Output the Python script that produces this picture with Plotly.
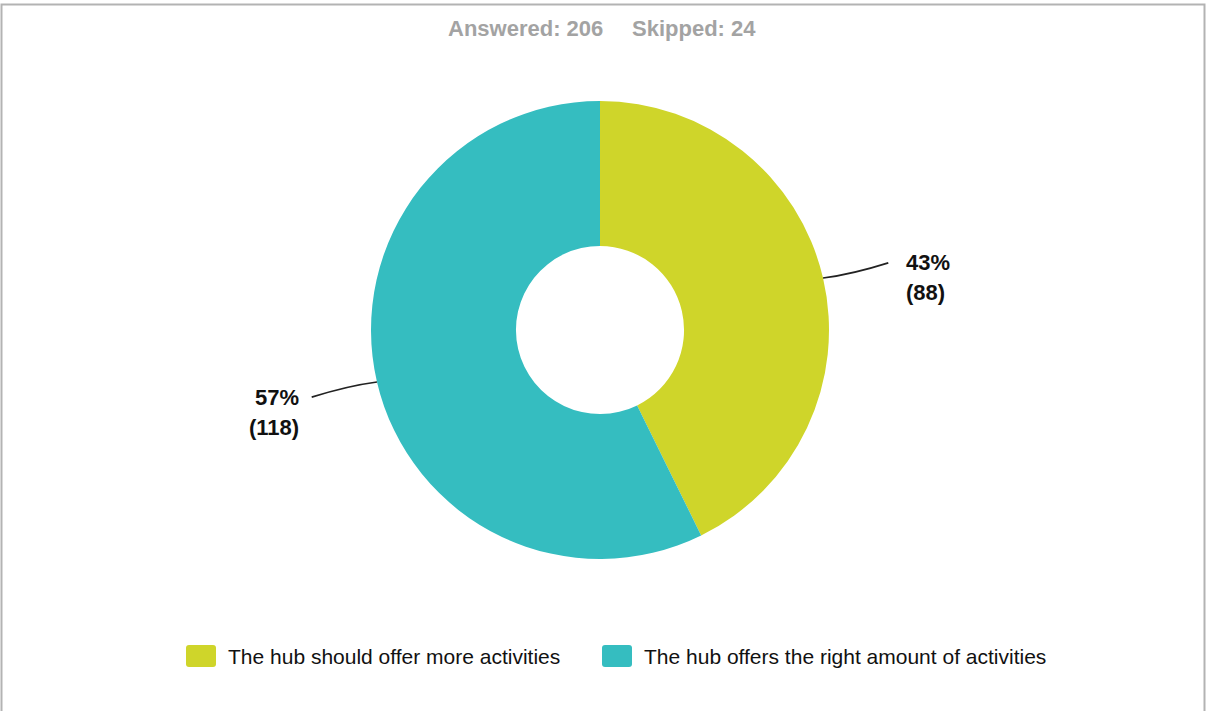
import math
import plotly.graph_objects as go

# Survey responses
categories = ["The hub should offer more activities",
              "The hub offers the right amount of activities"]
counts = [88, 118]
colors = ["#CFD52A", "#35BDC0"]
answered = 206
skipped = 24

W, H = 1206, 711
CX, CY, R = 600, 330, 229      # donut centre and outer radius in pixels
HOLE = 0.367
FONT = "Liberation Sans, Arial, sans-serif"


def px(x):
    return x / W


def py(y):
    return 1 - y / H


fig = go.Figure(go.Pie(
    labels=categories,
    values=counts,
    marker=dict(colors=colors, line=dict(width=0)),
    hole=HOLE,
    sort=False,
    direction="clockwise",
    rotation=0,
    textinfo="none",
    hoverinfo="label+value+percent",
    showlegend=False,
    domain=dict(x=[px(CX - R), px(CX + R)], y=[py(CY + R), py(CY - R)]),
))

shapes = []
annotations = []

# outer frame
shapes.append(dict(type="rect", xref="paper", yref="paper",
                   x0=px(1.5), x1=px(1204.5), y0=-0.02, y1=py(4.5),
                   line=dict(color="#b3b3b3", width=2), layer="below"))

# header
annotations.append(dict(text=f"<b>Answered: {answered}</b>", x=px(605), y=py(29),
                        xref="paper", yref="paper", xanchor="right", yanchor="middle",
                        showarrow=False, font=dict(family=FONT, size=22, color="#a3a3a3")))
annotations.append(dict(text=f"<b>Skipped: {skipped}</b>", x=px(630), y=py(29),
                        xref="paper", yref="paper", xanchor="left", yanchor="middle",
                        showarrow=False, font=dict(family=FONT, size=22, color="#a3a3a3")))

# outside labels with leader lines
total = sum(counts)
start = 0.0
for cnt in counts:
    frac = cnt / total
    mid = (start + frac / 2) * 2 * math.pi
    start += frac
    dx, dy = math.sin(mid), -math.cos(mid)
    x0, y0 = CX + R * dx, CY + R * dy
    x1, y1 = CX + (R + 67) * dx, CY + (R + 67) * dy
    xm, ym = CX + (R + 30) * dx, CY + (R + 30) * dy + 3 * (1 if dx > 0 else -1)
    shapes.append(dict(type="path", xref="paper", yref="paper",
                       path=f"M {px(x0)},{py(y0)} Q {px(xm)},{py(ym)} {px(x1)},{py(y1)}",
                       line=dict(color="#222222", width=1.6)))
    right = dx > 0
    tx = x1 + 16 if right else x1 - 11
    pct = round(frac * 100)
    for i, line in enumerate([f"{pct}%", f"({cnt})"]):
        annotations.append(dict(text=f"<b>{line}</b>", x=px(tx), y=py(y1 + 30 * i),
                                xref="paper", yref="paper",
                                xanchor="left" if right else "right", yanchor="middle",
                                align="left", showarrow=False,
                                font=dict(family=FONT, size=22, color="#111111")))

# legend
legend_x = [186, 602]
LY = 656
for name, col, lx in zip(categories, colors, legend_x):
    a, b, c, d, r = lx, lx + 30, LY - 11, LY + 11, 3
    path = (f"M {px(a + r)},{py(c)} L {px(b - r)},{py(c)} Q {px(b)},{py(c)} {px(b)},{py(c + r)} "
            f"L {px(b)},{py(d - r)} Q {px(b)},{py(d)} {px(b - r)},{py(d)} "
            f"L {px(a + r)},{py(d)} Q {px(a)},{py(d)} {px(a)},{py(d - r)} "
            f"L {px(a)},{py(c + r)} Q {px(a)},{py(c)} {px(a + r)},{py(c)} Z")
    shapes.append(dict(type="path", xref="paper", yref="paper", path=path,
                       fillcolor=col, line=dict(width=0)))
    annotations.append(dict(text=name, x=px(lx + 40), y=py(LY), xref="paper", yref="paper",
                            xanchor="left", yanchor="middle", showarrow=False,
                            font=dict(family=FONT, size=21, color="#111111")))

fig.update_layout(
    width=W, height=H,
    margin=dict(l=0, r=0, t=0, b=0),
    paper_bgcolor="white",
    plot_bgcolor="white",
    shapes=shapes,
    annotations=annotations,
)

fig.write_html("out.html")
